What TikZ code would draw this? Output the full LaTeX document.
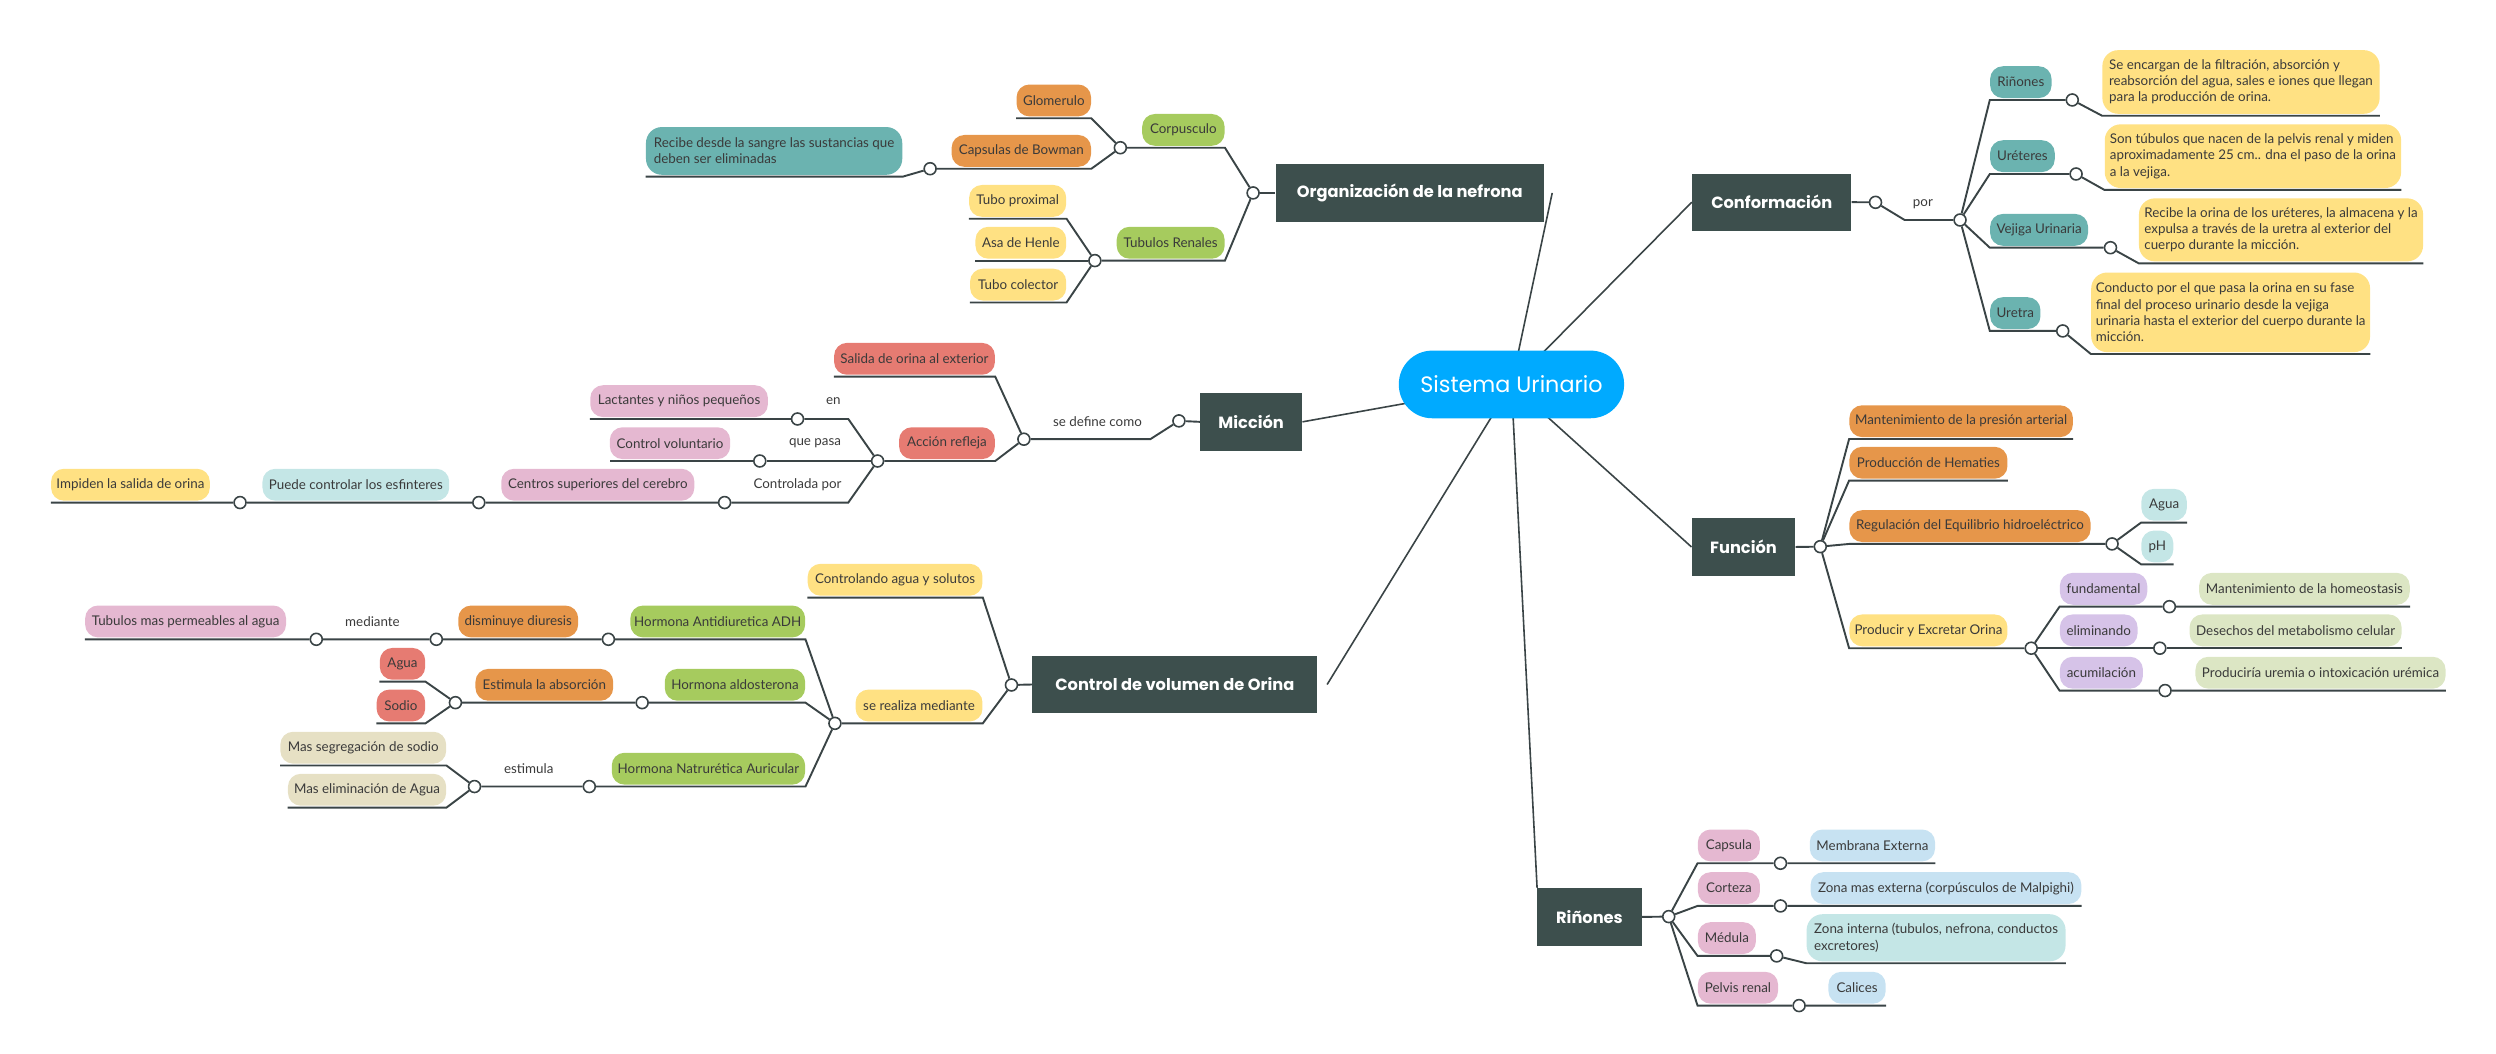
\documentclass[tikz,border=0pt]{standalone}
\usepackage{fontspec}
\setmainfont{Lato}
\newfontfamily\headfont{Poppins}
\usetikzlibrary{backgrounds}

\definecolor{darkC}{HTML}{3D4F4D}
\definecolor{lineC}{HTML}{3A4446}
\definecolor{txtC}{HTML}{3A3A3A}
\definecolor{cyanC}{HTML}{00AAFF}
\definecolor{orC}{HTML}{E6964A}
\definecolor{grC}{HTML}{A6CB5E}
\definecolor{yeC}{HTML}{FFE183}
\definecolor{teC}{HTML}{6BB3B0}
\definecolor{saC}{HTML}{E67B72}
\definecolor{piC}{HTML}{E5B8D1}
\definecolor{lcC}{HTML}{C4E6E6}
\definecolor{lbC}{HTML}{C7E2F2}
\definecolor{beC}{HTML}{E6E0C4}
\definecolor{puC}{HTML}{D6C3E8}
\definecolor{lgC}{HTML}{DCE6C4}

\tikzset{
  topic/.style={fill=darkC, text=white, font=\headfont\bfseries\fontsize{10.2}{12}\selectfont,
    minimum width=#1pt, minimum height=36pt, inner sep=0pt},
  pill/.style={rounded corners=8pt, minimum width=#1pt, minimum height=20pt, inner xsep=2pt,
    inner ysep=0pt, outer ysep=1.2pt, text=txtC, font=\fontsize{8.4}{10.2}\selectfont},
  note/.style={rounded corners=10pt, align=left},
  lbl/.style={text=txtC, font=\fontsize{8.4}{10}\selectfont, inner sep=0pt},
  dot/.style={circle, draw=lineC, line width=1pt, fill=white, minimum size=7.5pt, inner sep=0pt},
  ln/.style={draw=lineC, line width=1.2pt},
}

\begin{document}
\begin{tikzpicture}[x=1pt, y=-1pt]
\useasboundingbox (0,0) rectangle (1568,662);

% centro
\node[rounded corners=21pt, fill=cyanC, text=white, font=\headfont\fontsize{14}{16}\selectfont,
  minimum width=141.5pt, minimum height=42.5pt, inner sep=0pt] (su) at (949.5,241.5) {Sistema Urinario};

% temas
\node[topic=168.6] (org) at (885.6,121.2) {Organización de la nefrona};
\node[topic=100] (conf) at (1113,127) {Conformación};
\node[topic=64] (mic) at (786,265) {Micción};
\node[topic=65] (fun) at (1095.3,343.6) {Función};
\node[topic=179] (ctl) at (738,430) {Control de volumen de Orina};
\node[topic=65.4] (rin) at (998.5,576) {Riñones};

% organizacion de la nefrona
\node[dot] (d-org) at (787.2,121.2) {};
\node[pill=51.8, fill=grC, anchor=south east] (corp) at (769.5,92.8) {Corpusculo};
\node[dot] (d-corp) at (703.8,92.8) {};
\node[pill=46.8, fill=orC, anchor=south east] (glo) at (685.6,74.3) {Glomerulo};
\node[pill=87.6, fill=orC, anchor=south east] (cap) at (685.6,106) {Capsulas de Bowman};
\node[dot] (d-cap) at (584.3,106) {};
\node[pill=161, note, fill=teC, minimum height=30pt, anchor=south east] (rec) at (567,111)
  {Recibe desde la sangre las sustancias que\\deben ser eliminadas};
\node[pill=67.8, fill=grC, anchor=south east] (tub) at (769.5,163.7) {Tubulos Renales};
\node[dot] (d-tub) at (687.8,163.7) {};
\node[pill=61, fill=yeC, anchor=south east] (tp) at (670,137.4) {Tubo proximal};
\node[pill=57, fill=yeC, anchor=south east] (asa) at (670,163.7) {Asa de Henle};
\node[pill=60.4, fill=yeC, anchor=south east] (tc) at (670,190) {Tubo colector};

% conformacion
\node[dot] (d-conf) at (1178.2,127.1) {};
\coordinate (k-por) at (1196.5,138.2);
\node[dot] (d-por) at (1231.3,138.2) {};
\node[lbl] (por) at (1208,128) {por};
\node[pill=38.6, fill=teC, anchor=south west] (rn) at (1250,62.8) {Riñones};
\node[dot] (d-rn) at (1301.8,62.8) {};
\node[pill=174.2, note, fill=yeC, minimum height=40pt, anchor=south west] (x1) at (1320.5,72.7)
  {Se encargan de la filtración, absorción y\\reabsorción del agua, sales e iones que llegan\\para la producción de orina.};
\node[pill=40.6, fill=teC, anchor=south west] (ur) at (1250,109.3) {Uréteres};
\node[dot] (d-ur) at (1304.2,109.3) {};
\node[pill=186.2, note, fill=yeC, minimum height=40pt, anchor=south west] (x2) at (1322,119.3)
  {Son túbulos que nacen de la pelvis renal y miden\\aproximadamente 25 cm.. dna el paso de la orina\\a la vejiga.};
\node[pill=61.5, fill=teC, anchor=south west] (vu) at (1250,155.6) {Vejiga Urinaria};
\node[dot] (d-vu) at (1325.8,155.6) {};
\node[pill=178.5, note, fill=yeC, minimum height=39.6pt, anchor=south west] (x3) at (1343.5,165.4)
  {Recibe la orina de los uréteres, la almacena y la\\expulsa a través de la uretra al exterior del\\cuerpo durante la micción.};
\node[pill=31.6, fill=teC, anchor=south west] (ure) at (1250,207.9) {Uretra};
\node[dot] (d-ure) at (1295.8,207.9) {};
\node[pill=175.2, note, fill=yeC, minimum height=50pt, anchor=south west] (x4) at (1313.5,222.4)
  {Conducto por el que pasa la orina en su fase\\final del proceso urinario desde la vejiga\\urinaria hasta el exterior del cuerpo durante la\\micción.};

% miccion
\node[dot] (d-mic) at (740.6,264.4) {};
\coordinate (k-sdc) at (722.6,275.9);
\node[dot] (d-sdc) at (643.2,275.9) {};
\node[lbl] (sdc) at (689.4,265) {se define como};
\node[pill=101, fill=saC, anchor=south east] (sal) at (625.2,236.6) {Salida de orina al exterior};
\node[pill=60.2, fill=saC, anchor=south east] (acc) at (625.2,289.6) {Acción refleja};
\node[dot] (d-acc) at (551.3,289.6) {};
\coordinate (k-en) at (532.9,263.2);
\node[dot] (d-en) at (501,263.2) {};
\node[lbl] (en) at (523.5,252) {en};
\node[pill=111.6, fill=piC, anchor=south east] (lac) at (482.6,263.2) {Lactantes y niños pequeños};
\node[dot] (d-qp) at (477.3,289.6) {};
\node[lbl] (qp) at (512,278.5) {que pasa};
\node[pill=75.6, fill=piC, anchor=south east] (cv) at (458.9,289.6) {Control voluntario};
\coordinate (k-cp) at (532.9,315.7);
\node[dot] (d-cp) at (455.2,315.7) {};
\node[lbl] (cp) at (501,304.6) {Controlada por};
\node[pill=121.3, fill=piC, anchor=south east] (cs) at (436.4,315.7) {Centros superiores del cerebro};
\node[dot] (d-cs) at (300.8,315.7) {};
\node[pill=117.3, fill=lcC, anchor=south east] (pce) at (282.4,315.7) {Puede controlar los esfinteres};
\node[dot] (d-pce) at (150.8,315.7) {};
\node[pill=99.7, fill=yeC, anchor=south east] (imp) at (132,315.7) {Impiden la salida de orina};

% control de volumen
\node[dot] (d-ctl) at (635.4,430.3) {};
\node[pill=109.8, fill=yeC, anchor=south east] (cas) at (617.4,375.4) {Controlando agua y solutos};
\node[pill=79.7, fill=yeC, anchor=south east] (srm) at (617.4,454.4) {se realiza mediante};
\node[dot] (d-srm) at (524.5,454.4) {};
\node[pill=109.8, fill=grC, anchor=south east] (adh) at (506,401.6) {Hormona Antidiuretica ADH};
\node[dot] (d-adh) at (382.2,401.6) {};
\node[pill=75.3, fill=orC, anchor=south east] (dis) at (363.4,401.6) {disminuye diuresis};
\node[dot] (d-dis) at (274.1,401.6) {};
\node[lbl] (med) at (234,390.5) {mediante};
\node[dot] (d-med) at (198.7,401.6) {};
\node[pill=126.2, fill=piC, anchor=south east] (tmp) at (179.9,401.6) {Tubulos mas permeables al agua};
\node[pill=88.2, fill=grC, anchor=south east] (ald) at (506,441.4) {Hormona aldosterona};
\node[dot] (d-ald) at (403.4,441.4) {};
\node[pill=86.5, fill=orC, anchor=south east] (est) at (385.4,441.4) {Estimula la absorción};
\node[dot] (d-est) at (286.1,441.4) {};
\node[pill=28.5, fill=saC, anchor=south east] (agu) at (267.3,428.2) {Agua};
\node[pill=30.5, fill=saC, anchor=south east] (sod) at (267.3,454.4) {Sodio};
\node[pill=121.5, fill=grC, anchor=south east] (hna) at (506,494.1) {Hormona Natrurética Auricular};
\node[dot] (d-hna) at (370.2,494.1) {};
\node[lbl] (esti) at (332.2,483) {estimula};
\node[dot] (d-esti) at (298.1,494.1) {};
\node[pill=104.2, fill=beC, anchor=south east] (mss) at (280.5,480.9) {Mas segregación de sodio};
\node[pill=99.4, fill=beC, anchor=south east] (mea) at (280.5,507.3) {Mas eliminación de Agua};

% funcion
\node[dot] (d-fun) at (1143.5,343.4) {};
\node[pill=140.4, fill=orC, anchor=south west] (mpa) at (1161.6,275.8) {Mantenimiento de la presión arterial};
\node[pill=99.3, fill=orC, anchor=south west] (pdh) at (1161.6,301.9) {Producción de Hematies};
\node[pill=151.5, fill=orC, anchor=south west] (reh) at (1161.6,341.7) {Regulación del Equilibrio hidroeléctrico};
\node[dot] (d-reh) at (1326.8,341.7) {};
\node[pill=28.6, fill=lcC, anchor=south west] (ag2) at (1345,328.3) {Agua};
\node[pill=20.1, fill=lcC, anchor=south west] (ph) at (1345,354.5) {pH};
\node[pill=99.3, fill=yeC, anchor=south west] (pyo) at (1161.6,407.2) {Producir y Excretar Orina};
\node[dot] (d-pyo) at (1276,407.2) {};
\node[pill=54.9, fill=puC, anchor=south west] (fund) at (1293.8,381.1) {fundamental};
\node[dot] (d-fund) at (1362.8,381.1) {};
\node[pill=132.3, fill=lgC, anchor=south west] (mh) at (1381.3,381.1) {Mantenimiento de la homeostasis};
\node[pill=48.8, fill=puC, anchor=south west] (elim) at (1293.8,407.2) {eliminando};
\node[dot] (d-elim) at (1356.8,407.2) {};
\node[pill=133.2, fill=lgC, anchor=south west] (dmc) at (1375.3,407.2) {Desechos del metabolismo celular};
\node[pill=52.2, fill=puC, anchor=south west] (acu) at (1293.8,433.8) {acumilación};
\node[dot] (d-acu) at (1360.1,433.8) {};
\node[pill=157.1, fill=lgC, anchor=south west] (pui) at (1379,433.8) {Produciría uremia o intoxicación urémica};

% riñones
\node[dot] (d-rin) at (1048.3,575.8) {};
\node[pill=39, fill=piC, anchor=south west] (cps) at (1066.4,542.3) {Capsula};
\node[dot] (d-cps) at (1118.5,542.3) {};
\node[pill=78.7, fill=lbC, anchor=south west] (me) at (1136.7,542.3) {Membrana Externa};
\node[pill=39, fill=piC, anchor=south west] (cor) at (1066.4,569.1) {Corteza};
\node[dot] (d-cor) at (1118.5,569.1) {};
\node[pill=170.1, fill=lbC, anchor=south west] (zme) at (1137.2,569.1) {Zona mas externa (corpúsculos de Malpighi)};
\node[pill=36.5, fill=piC, anchor=south west] (medu) at (1066.4,600.5) {Médula};
\node[dot] (d-medu) at (1116.1,600.5) {};
\node[pill=162.7, note, fill=lcC, minimum height=29.6pt, anchor=south west] (zi) at (1134.7,605.1)
  {Zona interna (tubulos, nefrona, conductos\\excretores)};
\node[pill=50.4, fill=piC, anchor=south west] (pel) at (1066.4,631.7) {Pelvis renal};
\node[dot] (d-pel) at (1130.2,631.7) {};
\node[pill=36, fill=lbC, anchor=south west] (cal) at (1148.4,631.7) {Calices};

\begin{pgfonlayer}{background}
  % ramas principales
  \draw[ln, line width=1pt] (su.center) -- ([xshift=5pt]org.east);
  \draw[ln, line width=1pt] (su.center) -- (conf.west);
  \draw[ln, line width=1pt] (su.center) -- (mic.east);
  \draw[ln, line width=1pt] (su.center) -- (fun.west);
  \draw[ln, line width=1pt] (su.center) -- ([xshift=6pt]ctl.east);
  \draw[ln, line width=1pt] (su.center) -- (rin.north west);

  \draw[ln] (org.west) -- (d-org);
  \draw[ln] (d-org) -- (corp.south east) -- (d-corp);
  \draw[ln] (d-corp) -- (glo.south east) -- (glo.south west);
  \draw[ln] (d-corp) -- (cap.south east) -- (d-cap);
  \draw[ln] (d-cap) -- (rec.south east) -- (rec.south west);
  \draw[ln] (d-org) -- (tub.south east) -- (d-tub);
  \draw[ln] (d-tub) -- (tp.south east) -- (tp.south west);
  \draw[ln] (d-tub) -- (asa.south east) -- (asa.south west);
  \draw[ln] (d-tub) -- (tc.south east) -- (tc.south west);

  \draw[ln] (conf.east) -- (d-conf) -- (k-por) -- (d-por);
  \draw[ln] (d-por) -- (rn.south west) -- (d-rn) -- (x1.south west) -- (x1.south east);
  \draw[ln] (d-por) -- (ur.south west) -- (d-ur) -- (x2.south west) -- (x2.south east);
  \draw[ln] (d-por) -- (vu.south west) -- (d-vu) -- (x3.south west) -- (x3.south east);
  \draw[ln] (d-por) -- (ure.south west) -- (d-ure) -- (x4.south west) -- (x4.south east);

  \draw[ln] (mic.west) -- (d-mic) -- (k-sdc) -- (d-sdc);
  \draw[ln] (d-sdc) -- (sal.south east) -- (sal.south west);
  \draw[ln] (d-sdc) -- (acc.south east) -- (d-acc);
  \draw[ln] (d-acc) -- (k-en) -- (d-en) -- (lac.south west);
  \draw[ln] (d-acc) -- (d-qp) -- (cv.south west);
  \draw[ln] (d-acc) -- (k-cp) -- (d-cp) -- (d-cs) -- (d-pce) -- (imp.south west);

  \draw[ln] (ctl.west) -- (d-ctl);
  \draw[ln] (d-ctl) -- (cas.south east) -- (cas.south west);
  \draw[ln] (d-ctl) -- (srm.south east) -- (d-srm);
  \draw[ln] (d-srm) -- (adh.south east) -- (d-adh) -- (d-dis) -- (d-med) -- (tmp.south west);
  \draw[ln] (d-srm) -- (ald.south east) -- (d-ald) -- (d-est);
  \draw[ln] (d-est) -- (agu.south east) -- (agu.south west);
  \draw[ln] (d-est) -- (sod.south east) -- (sod.south west);
  \draw[ln] (d-srm) -- (hna.south east) -- (d-hna) -- (d-esti);
  \draw[ln] (d-esti) -- (mss.south east) -- (mss.south west);
  \draw[ln] (d-esti) -- (mea.south east) -- (mea.south west);

  \draw[ln] (fun.east) -- (d-fun);
  \draw[ln] (d-fun) -- (mpa.south west) -- (mpa.south east);
  \draw[ln] (d-fun) -- (pdh.south west) -- (pdh.south east);
  \draw[ln] (d-fun) -- (reh.south west) -- (d-reh);
  \draw[ln] (d-reh) -- (ag2.south west) -- (ag2.south east);
  \draw[ln] (d-reh) -- (ph.south west) -- (ph.south east);
  \draw[ln] (d-fun) -- (pyo.south west) -- (d-pyo);
  \draw[ln] (d-pyo) -- (fund.south west) -- (d-fund) -- (mh.south east);
  \draw[ln] (d-pyo) -- (elim.south west) -- (d-elim) -- (dmc.south east);
  \draw[ln] (d-pyo) -- (acu.south west) -- (d-acu) -- (pui.south east);

  \draw[ln] (rin.east) -- (d-rin);
  \draw[ln] (d-rin) -- (cps.south west) -- (d-cps) -- (me.south east);
  \draw[ln] (d-rin) -- (cor.south west) -- (d-cor) -- (zme.south east);
  \draw[ln] (d-rin) -- (medu.south west) -- (d-medu) -- (zi.south west) -- (zi.south east);
  \draw[ln] (d-rin) -- (pel.south west) -- (d-pel) -- (cal.south east);
\end{pgfonlayer}
\end{tikzpicture}
\end{document}
